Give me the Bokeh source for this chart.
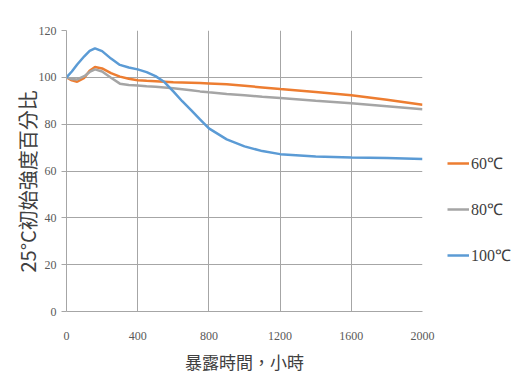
from bokeh.plotting import figure
from bokeh.models import Legend, LegendItem, Label, FixedTicker, Range1d
from bokeh.embed import file_html
from bokeh.resources import INLINE

hours = [0, 30, 60, 100, 130, 160, 200, 250, 300, 350, 400, 450, 500, 550, 600, 650,
         700, 750, 800, 900, 1000, 1100, 1200, 1400, 1600, 1800, 2000]
s60 = [100, 98.7, 98.1, 99.8, 102.8, 104.4, 103.8, 101.8, 100.3, 99.4, 98.8, 98.5, 98.3, 98.1,
       97.9, 97.8, 97.7, 97.6, 97.4, 97.0, 96.4, 95.7, 95.0, 93.7, 92.3, 90.4, 88.3]
s80 = [100, 99.3, 99.1, 100.5, 102.3, 103.4, 102.5, 99.8, 97.3, 96.7, 96.5, 96.2, 96.0, 95.7,
       95.3, 94.9, 94.5, 94.0, 93.6, 92.9, 92.3, 91.7, 91.2, 90.0, 88.9, 87.7, 86.4]
s100 = [100, 102.5, 105.5, 109, 111.3, 112.4, 111.2, 108, 105.3, 104.2, 103.4, 102.2, 100.5, 98,
        94, 89.8, 86, 82, 78.2, 73.5, 70.5, 68.5, 67.2, 66.2, 65.8, 65.5, 65.1]

names = ["60\u2103", "80\u2103", "100\u2103"]
colors = ["#ED7D31", "#A5A5A5", "#5B9BD5"]
xticks = [0, 400, 800, 1200, 1600, 2000]
yticks = [0, 20, 40, 60, 80, 100, 120]
y_title = "25°C初始強度百分比"
x_title = "暴露時間，小時"

p = figure(frame_width=356, frame_height=281, output_backend="svg", toolbar_location=None,
           x_range=Range1d(0, 2000), y_range=Range1d(0, 120),
           min_border_left=66, min_border_right=88, min_border_top=30, min_border_bottom=60)
p.outline_line_color = None
p.background_fill_color = "white"
p.border_fill_color = "white"

renderers = []
for ys, c in zip([s60, s80, s100], colors):
    r = p.line(hours, ys, line_color=c, line_width=2.5)
    renderers.append(r)

tick_font = "Liberation Sans Narrow"
p.xaxis.ticker = FixedTicker(ticks=xticks)
p.yaxis.ticker = FixedTicker(ticks=yticks)
for ax in (p.xaxis[0], p.yaxis[0]):
    ax.axis_line_color = "#A6A6A6"
    ax.major_label_text_font = tick_font
    ax.major_label_text_font_size = "12px"
    ax.major_label_text_color = "#595959"
    ax.minor_tick_line_color = None
p.xaxis.major_tick_line_color = None
p.xaxis.major_label_standoff = 14
p.yaxis.major_tick_line_color = "#A6A6A6"
p.yaxis.major_tick_in = 0
p.yaxis.major_tick_out = 5
p.yaxis.major_label_standoff = 5

p.xaxis.axis_label = x_title
p.xaxis.axis_label_text_font = "Noto Sans CJK TC"
p.xaxis.axis_label_text_font_style = "normal"
p.xaxis.axis_label_text_font_size = "17px"
p.xaxis.axis_label_text_color = "#404040"
p.xaxis.axis_label_standoff = 6

p.grid.grid_line_color = "#A6A6A6"
p.grid.grid_line_width = 1

legend = Legend(items=[LegendItem(label=n, renderers=[r]) for n, r in zip(names, renderers)],
                location=(25, 45), border_line_color=None, background_fill_alpha=0,
                label_text_font=tick_font, label_text_font_size="16px",
                label_text_color="#404040", glyph_width=22, glyph_height=20,
                label_height=20, spacing=24, label_standoff=2, padding=0, margin=0)
p.add_layout(legend, "right")

ylab = Label(x=21, y=39, x_units="screen", y_units="screen", text=y_title, angle=90,
             angle_units="deg", text_font="Noto Sans CJK TC", text_baseline="middle",
             text_font_size="20px", text_color="#404040")
p.add_layout(ylab, "left")

open("out.html", "w").write(file_html(p, INLINE))
